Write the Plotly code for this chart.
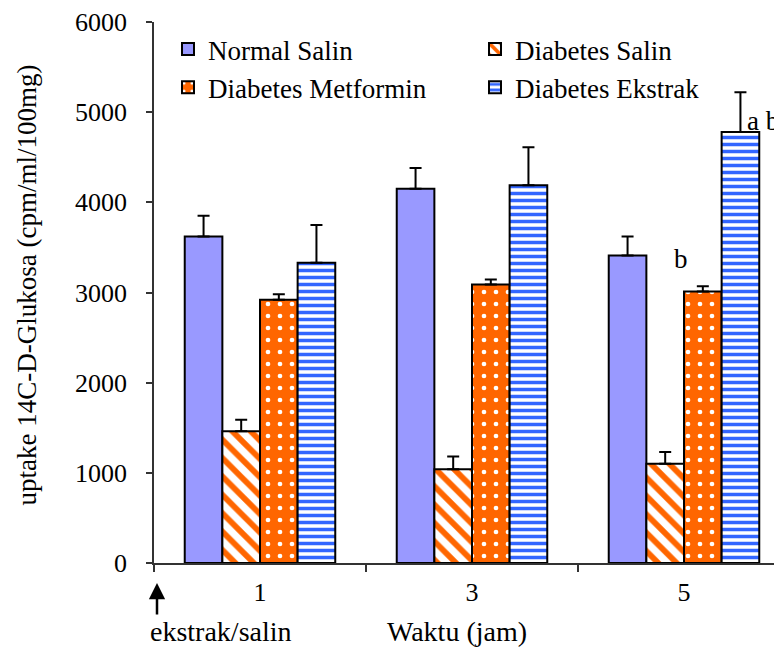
import plotly.graph_objects as go

categories = ["1", "3", "5"]
series_names = ["Normal Salin", "Diabetes Salin", "Diabetes Metformin", "Diabetes Ekstrak"]
normal_salin = [3620, 4150, 3410]
normal_salin_err = [230, 230, 210]
diabetes_salin = [1460, 1040, 1100]
diabetes_salin_err = [130, 140, 130]
diabetes_metformin = [2920, 3090, 3010]
diabetes_metformin_err = [60, 55, 60]
diabetes_ekstrak = [3330, 4190, 4780]
diabetes_ekstrak_err = [420, 420, 440]

FONT = "Liberation Serif"
ORANGE = "#FF6600"
BLUE = "#3366FF"

def err(vals):
    return dict(type="data", array=vals, arrayminus=[0] * len(vals), symmetric=False,
                color="black", thickness=2, width=6)

fig = go.Figure()
fig.add_trace(go.Bar(name=series_names[0], x=categories, y=normal_salin,
                     error_y=err(normal_salin_err),
                     marker=dict(color="#9999FF", line=dict(color="black", width=2))))
fig.add_trace(go.Bar(name=series_names[1], x=categories, y=diabetes_salin,
                     error_y=err(diabetes_salin_err),
                     marker=dict(color="white", line=dict(color="black", width=2),
                                 pattern=dict(shape="\\", fgcolor=ORANGE, bgcolor="white",
                                              size=13, solidity=0.45, fillmode="replace"))))
fig.add_trace(go.Bar(name=series_names[2], x=categories, y=diabetes_metformin,
                     error_y=err(diabetes_metformin_err),
                     marker=dict(color=ORANGE, line=dict(color="black", width=2),
                                 pattern=dict(shape=".", fgcolor="white", bgcolor=ORANGE,
                                              size=12, solidity=0.12, fillmode="replace"))))
fig.add_trace(go.Bar(name=series_names[3], x=categories, y=diabetes_ekstrak,
                     error_y=err(diabetes_ekstrak_err),
                     marker=dict(color="white", line=dict(color="black", width=2),
                                 pattern=dict(shape="-", fgcolor=BLUE, bgcolor="white",
                                              size=7, solidity=0.5, fillmode="replace"))))

OFF = 8  # default page body margin
W, H = 782 - OFF, 648 - OFF
L, R, T, B = 154 - OFF, 0, 19 - OFF, 648 - 563
pw, ph = W - L - R, H - T - B

def px(xp):  # reference-page x pixel -> paper
    return (xp - OFF - L) / pw

def py(yp):  # reference-page y pixel -> paper
    return (563 - yp) / ph

annotations = [
    dict(text="uptake 14C-D-Glukosa (cpm/ml/100mg)", xref="paper", yref="paper",
         x=px(27), y=py(284), textangle=-90, showarrow=False,
         font=dict(family=FONT, size=27, color="black"), xanchor="center", yanchor="middle"),
    dict(text="Waktu (jam)", xref="paper", yref="paper", x=px(457), y=py(632),
         showarrow=False, font=dict(family=FONT, size=28, color="black"),
         xanchor="center", yanchor="middle"),
    dict(text="ekstrak/salin", xref="paper", yref="paper", x=px(221), y=py(632),
         showarrow=False, font=dict(family=FONT, size=28, color="black"),
         xanchor="center", yanchor="middle"),
    dict(text="", xref="paper", yref="paper", x=px(157), y=py(583), ax=0, ay=33,
         showarrow=True, arrowhead=2, arrowsize=1.3, arrowwidth=2.5, arrowcolor="black"),
    dict(text="b", xref="paper", yref="paper", x=px(690), y=py(257), showarrow=False,
         font=dict(family=FONT, size=27, color="black")),
    dict(text="a b", xref="paper", yref="paper", x=px(745), y=py(101), showarrow=False,
         xanchor="left", font=dict(family=FONT, size=27, color="black")),
]

fig.update_layout(
    width=W, height=H,
    margin=dict(l=L, r=R, t=T, b=B, pad=0),
    paper_bgcolor="white", plot_bgcolor="white",
    barmode="group", bargap=0.29, bargroupgap=0,
    font=dict(family=FONT, size=26, color="black"),
    legend=dict(orientation="h", x=px(168), y=py(22), xanchor="left", yanchor="top",
                entrywidth=262, entrywidthmode="pixels",
                font=dict(family=FONT, size=27, color="black"),
                bgcolor="rgba(0,0,0,0)", tracegroupgap=0, itemwidth=30),
    annotations=annotations,
    showlegend=True,
)
fig.update_yaxes(range=[0, 6000], dtick=1000, tick0=0, showgrid=False, zeroline=False,
                 showline=True, linecolor="#333", linewidth=1.5,
                 ticks="outside", ticklen=6, tickcolor="#333", tickwidth=1.5,
                 ticklabeloverflow="allow",
                 tickfont=dict(family=FONT, size=26, color="black"), ticklabelstandoff=14)
fig.update_xaxes(type="category", categoryorder="array", categoryarray=categories,
                 range=[-0.5, -0.5 + pw / 212], showgrid=False, zeroline=False,
                 showline=True, linecolor="#333", linewidth=1.5,
                 ticks="outside", tickson="boundaries", ticklen=7, tickcolor="#333", tickwidth=1.5,
                 ticklabelstandoff=5,
                 tickfont=dict(family=FONT, size=26, color="black"))

fig.write_html("out.html")
